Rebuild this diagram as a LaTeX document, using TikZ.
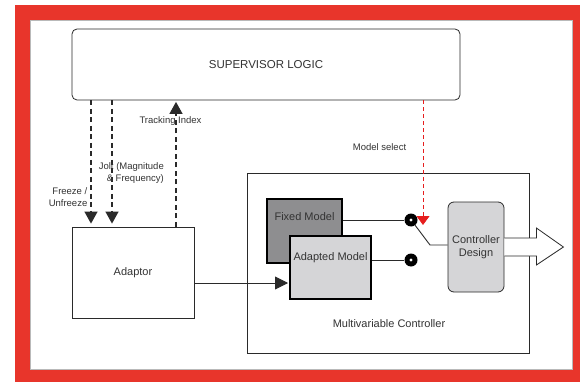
\documentclass[tikz,border=0pt]{standalone}
\usepackage{fontspec}
\setmainfont{Liberation Sans}
\usetikzlibrary{arrows.meta,calc}
\definecolor{framered}{RGB}{232,53,43}
\definecolor{linec}{HTML}{2A2A2A}
\definecolor{txtc}{HTML}{333333}
\definecolor{darkfill}{HTML}{8E8E90}
\definecolor{lightfill}{HTML}{D5D5D7}
\definecolor{seldash}{RGB}{230,30,30}
\tikzset{
  box/.style={draw=linec, line width=0.8pt, inner sep=0pt, text=txtc,
    font=\fontsize{11}{12.5}\selectfont, align=center},
  modelbox/.style={draw=black, line width=2.6pt, inner sep=0pt},
  lbl/.style={inner sep=0pt, text=txtc, font=\fontsize{9.5}{12}\selectfont},
  mainlbl/.style={inner sep=0pt, text=txtc, font=\fontsize{11}{12.5}\selectfont},
  dashline/.style={draw=linec, line width=1.2pt, dash pattern=on 5pt off 3.5pt},
  reddash/.style={draw=seldash, line width=0.8pt, dash pattern=on 4pt off 3pt},
  bigtip/.style={-{Triangle[length=12pt,width=13pt]}},
  redtip/.style={-{Triangle[length=9pt,width=13pt]}},
  contact/.style={circle, fill=black, minimum size=13pt, inner sep=0pt},
  wire/.style={draw=linec, line width=0.9pt}
}
\begin{document}
\begin{tikzpicture}[x=1pt,y=-1pt]
\useasboundingbox (0,0) rectangle (580,382);
% frame
\fill[framered] (15,5) rectangle (580,382);
\fill[white] (30,20) rectangle (572,369);
\draw[gray!55, line width=0.8pt] (30,20) rectangle (572,369);

% nodes
\node[box, rounded corners=5pt, minimum width=388pt, minimum height=71pt,
      font=\fontsize{11.5}{13}\selectfont] (sup) at (266,64.5) {SUPERVISOR LOGIC};
\node[box, minimum width=122pt, minimum height=91pt] (adaptor) at (133,272.5) {Adaptor};
\node[box, minimum width=282pt, minimum height=180pt] (mc) at (388,263) {};
\node[mainlbl] (mclbl) at (389,324) {Multivariable Controller};

\node[modelbox, fill=darkfill, minimum width=75pt, minimum height=64pt,
      label={[mainlbl, anchor=center, yshift=-19pt]north:Fixed Model}] (fixed) at (304.5,231) {};
\node[modelbox, fill=lightfill, minimum width=81pt, minimum height=63pt,
      label={[mainlbl, anchor=center, yshift=-23pt]north:Adapted Model}] (adapted) at (330.5,267.5) {};

\node[box, fill=lightfill, rounded corners=6pt, minimum width=56pt, minimum height=90pt] (ctrl)
      at (476,247) {Controller\\Design};

\node[contact] (c1) at (411,220) {};
\node[contact] (c2) at (411,260) {};
\fill[white] (c1) circle (1.6);
\fill[white] (c2) circle (1.6);

% coordinates
\coordinate (fz) at (91,0);
\coordinate (jt) at (112,0);
\coordinate (tr) at (176,0);
\coordinate (rd) at (423,0);
\coordinate (rdEnd) at (423,225);
\coordinate (aIn) at (288,283);
\coordinate (sw) at (430,245);

% dashed supervisor links
\draw[dashline, bigtip, shorten >=3pt] (fz |- sup.south) -- (fz |- adaptor.north);
\draw[dashline, bigtip, shorten >=3pt] (jt |- sup.south) -- (jt |- adaptor.north);
\draw[dashline, bigtip, shorten >=1.5pt] (tr |- adaptor.north) -- (tr |- sup.south);
\draw[reddash, redtip] (rd |- sup.south) -- (rdEnd);

% labels
\node[lbl] (trlbl) at (170.5,121) {Tracking Index};
\node[lbl, align=right, anchor=east] (joltlbl) at (164,173) {Jolt (Magnitude\\\& Frequency)};
\node[lbl, align=right, anchor=east] (frzlbl) at (87.5,197) {Freeze /\\Unfreeze};
\node[lbl] (mslbl) at (379.5,147) {Model select};

% solid wires
\draw[wire, -{Triangle[length=13pt,width=13pt]}] (adaptor.east |- aIn) -- (aIn);
\draw[wire] (fixed.east |- c1) -- (c1);
\draw[wire] (adapted.east |- c2) -- (c2);
\draw[wire] (c1.-52) -- (sw) -- (sw -| ctrl.west);

% output arrow
\draw[draw=linec, line width=0.8pt, fill=white]
  ($(ctrl.east)+(0,-9)$) -- ++(32,0) -- ++(0,-10) -- ($(ctrl.east)+(59,0)$)
  -- ($(ctrl.east)+(32,18)$) -- ++(0,-9) -- ($(ctrl.east)+(0,9)$);
\end{tikzpicture}
\end{document}
